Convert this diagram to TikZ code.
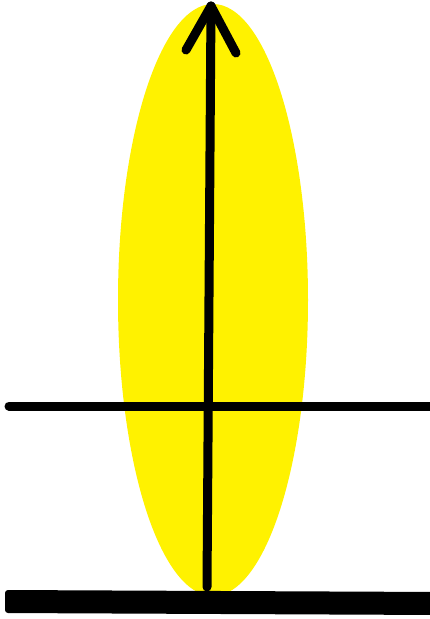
\documentclass[tikz,border=0pt]{standalone}
\definecolor{ellyellow}{RGB}{255,242,0}
\begin{document}
\begin{tikzpicture}[x=1pt,y=-1pt,
  thinline/.style={line width=9pt,line cap=round,black}]
\useasboundingbox (0,0) rectangle (429,619);
\fill[ellyellow] (213,300) ellipse [x radius=95, y radius=296];
\coordinate (base) at (207,587);
\coordinate (tip) at (211,6);
\coordinate (la) at (186,50);
\coordinate (ra) at (236,53);
\draw[thinline] (base) -- (tip);
\draw[thinline,line join=round] (la) -- (tip) -- (ra);
\coordinate (hl) at (9,406);
\coordinate (hr) at (435,406);
\draw[thinline] (hl) -- (hr);
\fill[black,rounded corners=3pt] (5,590) -- (440,592) -- (440,615) -- (5,613) -- cycle;
\end{tikzpicture}
\end{document}
